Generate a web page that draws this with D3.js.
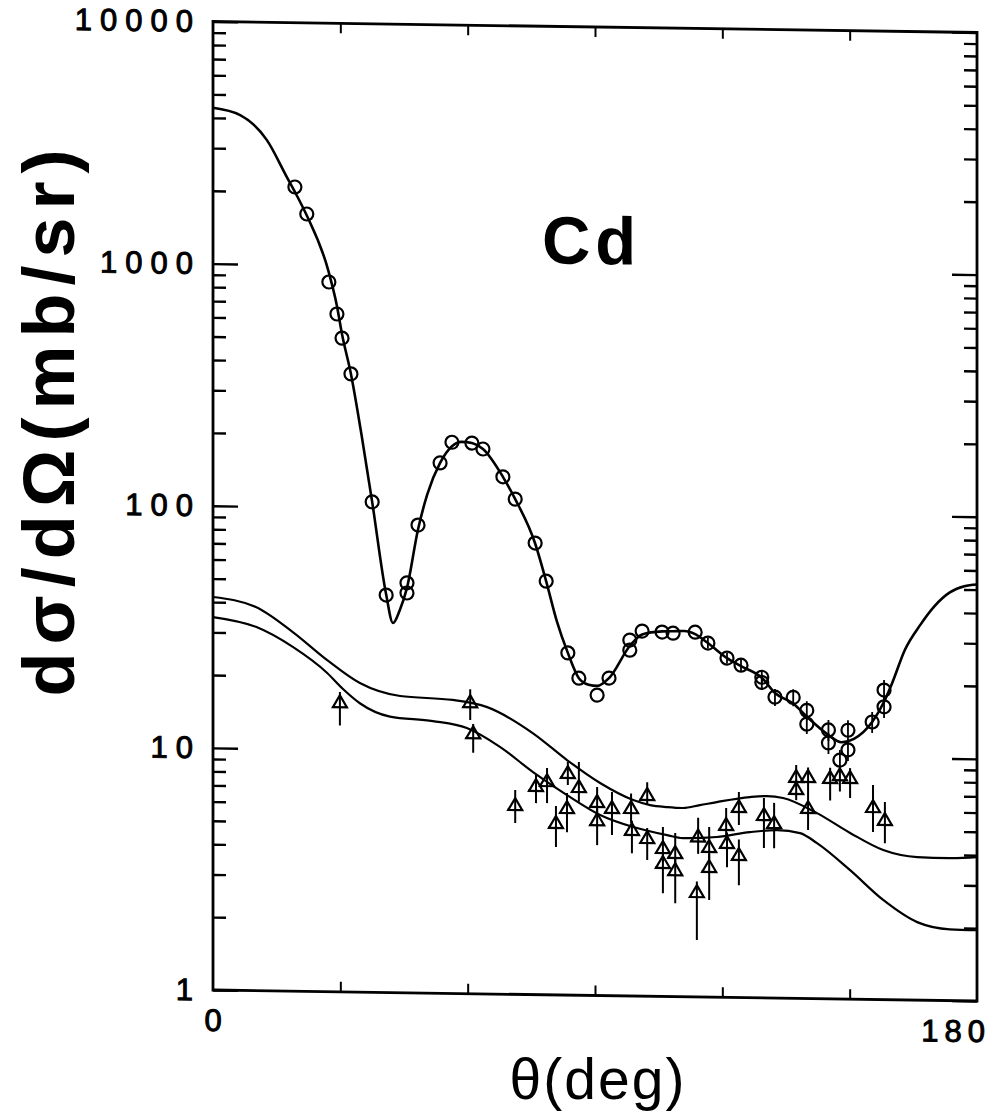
<!DOCTYPE html>
<html>
<head>
<meta charset="utf-8">
<script src="https://cdn.jsdelivr.net/npm/d3@7"></script>
<style>
  html, body { margin: 0; padding: 0; background: #ffffff; }
  svg { display: block; }
  text { font-family: "Liberation Sans", Arial, Helvetica, sans-serif; fill: #000; }
</style>
</head>
<body>
<svg id="chart" width="993" height="1116"></svg>
<script>
// Elastic cross section, optical-model curve (angle in degrees, mb/sr)
const elasticCurveTheta = [0, 6.4, 12.7, 17.4, 19.3, 22.1, 27.1, 29.2, 30.4, 32.5, 35.0, 37.5, 40.8, 42.4, 44.0, 45.7, 48.3, 50.5, 53.5, 56.3, 58.5, 61.0, 63.6, 68.3, 71.2, 75.9, 78.5, 81.0, 83.6, 86.2, 88.5, 90.5, 93.3, 98.2, 101.1, 105.8, 108.4, 111.0, 113.6, 116.6, 121.1, 124.4, 129.3, 132.4, 136.7, 139.9, 145.0, 148.0, 151.0, 155.3, 158.1, 160.0, 163.0, 166.6, 170.0, 173.6, 177.0, 180.0];
const elasticCurveValue = [4400, 4120, 3260, 2300, 2000, 1600, 960, 680, 520, 357, 200, 106, 44, 33.6, 38, 47, 82, 115, 155, 182, 190, 188, 178, 137, 111, 73, 51, 35, 25.9, 20.4, 19.2, 19.0, 20.5, 27.9, 31.2, 32.2, 32.3, 32.4, 31.5, 29.0, 25.2, 23.4, 21.0, 18.2, 16.5, 14.6, 12.3, 11.5, 11.9, 14.0, 17.0, 20.3, 27.9, 35.4, 42.5, 48.5, 51.5, 52.5];

// Inelastic curves (two model calculations)
const inelasticCurveTheta = [0, 10.1, 18.8, 26.9, 34.6, 44.1, 56.5, 64.6, 75.4, 83.4, 91.2, 99.0, 103.0, 107.0, 110.7, 114.7, 118.7, 126.5, 130.5, 134.3, 142.3, 150.1, 157.9, 165.9, 173.6, 180.0];
const inelasticUpperValue = [42.0, 38.4, 30.4, 23.4, 18.9, 16.8, 16.3, 15.3, 12.0, 9.35, 7.55, 6.45, 6.16, 6.06, 6.02, 6.20, 6.40, 6.74, 6.82, 6.71, 5.84, 4.86, 4.15, 3.90, 3.88, 3.93];
const inelasticLowerTheta = [0, 10.1, 18.8, 26.9, 30.5, 34.6, 41.7, 51.8, 59.8, 67.6, 75.4, 83.4, 91.2, 99.0, 107.0, 110.7, 118.7, 126.5, 132.9, 138.3, 142.3, 150.1, 157.9, 165.9, 173.6, 180.0];
const inelasticLowerValue = [34.7, 31.8, 26.4, 20.7, 17.9, 15.6, 13.8, 13.3, 12.5, 10.5, 8.30, 6.70, 5.57, 4.99, 4.64, 4.52, 4.59, 4.83, 4.94, 4.82, 4.39, 3.41, 2.58, 2.10, 1.97, 1.96];

// Measured elastic points
const elasticDataTheta = [19.3, 22.1, 27.3, 29.2, 30.4, 32.5, 37.5, 40.8, 45.7, 45.7, 48.3, 53.5, 56.3, 61.0, 63.6, 68.3, 71.2, 75.9, 78.5, 83.6, 86.2, 90.5, 93.3, 98.2, 98.2, 101.1, 105.8, 108.4, 113.6, 116.6, 121.1, 124.4, 129.3, 129.3, 132.4, 136.7, 139.9, 139.9, 145.0, 145.0, 147.7, 149.6, 149.6, 155.3, 158.1, 158.1];
const elasticDataValue = [2096, 1624, 853, 630, 501, 357, 106, 43.8, 49.3, 44.8, 85.6, 155, 189, 188, 178, 137, 111, 73.3, 51.1, 25.9, 20.4, 17.4, 20.5, 29.5, 26.8, 32.2, 32.0, 31.7, 32.1, 29.0, 25.2, 23.6, 21.1, 20.1, 17.5, 17.5, 15.5, 13.6, 12.9, 11.4, 9.7, 12.9, 10.7, 14.0, 16.2, 19.0];
const elasticDataErr = [0, 0, 0, 0, 0, 0, 0, 0, 0, 0, 0, 0, 0, 0, 0, 0, 0, 0, 0, 0, 0, 0, 0, 0, 0, 0, 0, 0, 0, 0.05, 0.05, 0.06, 0.07, 0.07, 0.08, 0.08, 0.09, 0.09, 0.1, 0.1, 0.1, 0.1, 0.1, 0.1, 0.1, 0.1];

// Measured inelastic points with their error limits
const inelasticDataTheta = [29.9, 60.6, 61.3, 71.2, 76.1, 78.7, 80.8, 83.6, 83.4, 86.2, 90.5, 90.5, 94.0, 98.5, 98.7, 102.3, 102.3, 106.0, 106.0, 108.9, 108.9, 114.0, 114.3, 116.9, 116.9, 120.9, 121.1, 123.9, 123.9, 129.8, 132.2, 137.4, 137.4, 140.2, 140.2, 145.4, 147.7, 150.1, 155.5, 158.3];
const inelasticDataValue = [15.7, 16.0, 11.9, 6.05, 7.27, 7.63, 5.13, 8.26, 5.92, 7.24, 6.30, 5.30, 5.96, 5.97, 4.85, 6.78, 4.50, 4.10, 3.56, 3.92, 3.33, 2.71, 4.6, 4.17, 3.45, 5.15, 4.34, 6.12, 3.88, 5.69, 5.28, 8.21, 7.32, 8.22, 6.12, 8.17, 8.4, 8.19, 6.23, 5.52];
const inelasticErrLow = [12.6, 13.5, 9.9, 5.10, 6.18, 6.19, 4.08, 7.37, 4.71, 6.3, 5.6, 4.18, 4.61, 5.18, 3.89, 6.2, 3.65, 3.6, 2.67, 3.5, 2.43, 1.72, 3.9, 3.7, 2.52, 4.6, 3.45, 5.16, 2.91, 4.16, 4.16, 7.5, 6.59, 6.80, 4.97, 6.6, 7.2, 6.77, 4.92, 4.43];
const inelasticErrHigh = [17.3, 18.1, 13.0, 6.98, 8.07, 8.64, 6.03, 9.17, 6.83, 9.19, 7.26, 5.9, 6.94, 6.86, 5.3, 7.66, 4.95, 5.01, 3.9, 4.74, 3.7, 3.0, 5.5, 5.04, 3.9, 6.05, 4.8, 7.06, 4.5, 6.69, 6.4, 9.2, 8.0, 9.0, 6.8, 9.0, 9.2, 9.0, 7.69, 6.55];

// Axis ticks and labels
const xTickValues = [30, 60, 90, 120, 150];
const xEndLabels = ["0", "180"];
const yMajorTicks = [1, 10, 100, 1000, 10000];
const yTickLabels = ["1", "10", "100", "1000", "10000"];
const elementLabel = "Cd";
const xTitle = "θ(deg)";
const yTitle = "dσ/dΩ(mb/sr)";

const W = 764, H = 968.5;
const svg = d3.select("#chart");

const x = d3.scaleLinear().domain([0, 180]).range([0, W]);
const y = d3.scaleLog().domain([1, 10000]).range([H, 0]);

// The plotting frame is slightly sheared, as on the printed page
const g = svg.append("g").attr("transform", "translate(213,21.5) skewY(0.825)");

// minor tick values of each decade
const yMinor = [];
for (let d = 1; d < 10000; d *= 10) for (let k = 2; k <= 9; k++) yMinor.push(d * k);

const labelStyle = sel => sel.attr("font-size", 31).attr("letter-spacing", 8)
  .attr("font-family", "'Liberation Sans', Arial, sans-serif").attr("fill", "#000")
  .attr("stroke", "#000").attr("stroke-width", 1);

// Left axis: minor ticks
g.append("g").call(d3.axisLeft(y).tickValues(yMinor).tickSize(-13).tickFormat(""))
  .call(a => a.select(".domain").remove())
  .selectAll("line").attr("stroke", "#000").attr("stroke-width", 2.4);
// Left axis: decade ticks with labels
const la = g.append("g").call(d3.axisLeft(y).tickValues(yMajorTicks).tickSize(-25).tickPadding(12)
  .tickFormat((d, i) => yTickLabels[i]));
la.select(".domain").remove();
la.selectAll("line").attr("stroke", "#000").attr("stroke-width", 2.4);
la.selectAll("text").call(labelStyle);

// Right axis ticks
g.append("g").attr("transform", `translate(${W},0)`)
  .call(d3.axisRight(y).tickValues(yMinor).tickSize(-13).tickFormat(""))
  .call(a => a.select(".domain").remove())
  .selectAll("line").attr("stroke", "#000").attr("stroke-width", 2.4);
g.append("g").attr("transform", `translate(${W},0)`)
  .call(d3.axisRight(y).tickValues(yMajorTicks).tickSize(-25).tickFormat(""))
  .call(a => a.select(".domain").remove())
  .selectAll("line").attr("stroke", "#000").attr("stroke-width", 2.4);

// Bottom and top ticks
g.append("g").attr("transform", `translate(0,${H})`)
  .call(d3.axisBottom(x).tickValues(xTickValues).tickSize(-10).tickFormat(""))
  .call(a => a.select(".domain").remove())
  .selectAll("line").attr("stroke", "#000").attr("stroke-width", 2);
g.append("g")
  .call(d3.axisTop(x).tickValues(xTickValues).tickSize(-10).tickFormat(""))
  .call(a => a.select(".domain").remove())
  .selectAll("line").attr("stroke", "#000").attr("stroke-width", 2);

// Frame
g.append("rect").attr("x", 0).attr("y", 0).attr("width", W).attr("height", H)
  .attr("fill", "none").attr("stroke", "#000").attr("stroke-width", 2.8);

// x end labels
g.append("text").attr("x", x(0)).attr("y", H + 41).attr("text-anchor", "middle")
  .call(labelStyle).attr("letter-spacing", 0).text(xEndLabels[0]);
g.append("text").attr("x", x(180) + 14).attr("y", H + 41).attr("text-anchor", "end")
  .call(labelStyle).attr("letter-spacing", 6).text(xEndLabels[1]);

// Curves
const line = d3.line().curve(d3.curveMonotoneX);
const pathData = (ts, vs) => line(ts.map((t, i) => [x(t), y(vs[i])]));

g.append("path").attr("d", pathData(elasticCurveTheta, elasticCurveValue))
  .attr("fill", "none").attr("stroke", "#000").attr("stroke-width", 2.6);
g.append("path").attr("d", pathData(inelasticCurveTheta, inelasticUpperValue))
  .attr("fill", "none").attr("stroke", "#000").attr("stroke-width", 2.2);
g.append("path").attr("d", pathData(inelasticLowerTheta, inelasticLowerValue))
  .attr("fill", "none").attr("stroke", "#000").attr("stroke-width", 2.2);

// Inelastic points: error bars then open triangles
const tri = inelasticDataTheta.map((t, i) => ({ t, v: inelasticDataValue[i], lo: inelasticErrLow[i], hi: inelasticErrHigh[i] }));
g.append("g").selectAll("line").data(tri).join("line")
  .attr("x1", d => x(d.t)).attr("x2", d => x(d.t))
  .attr("y1", d => y(d.hi)).attr("y2", d => y(d.lo))
  .attr("stroke", "#000").attr("stroke-width", 2);
g.append("g").selectAll("path").data(tri).join("path")
  .attr("transform", d => `translate(${x(d.t)},${y(d.v)})`)
  .attr("d", "M0,-7 L7,5 L-7,5 Z M-8,5 L8,5")
  .attr("fill", "none").attr("stroke", "#000").attr("stroke-width", 2.2);

// Elastic points: open circles with small error bars
const circ = elasticDataTheta.map((t, i) => ({ t, v: elasticDataValue[i], e: elasticDataErr[i] }));
g.append("g").selectAll("line").data(circ.filter(d => d.e > 0)).join("line")
  .attr("x1", d => x(d.t)).attr("x2", d => x(d.t))
  .attr("y1", d => y(d.v * (1 + d.e))).attr("y2", d => y(d.v * (1 - d.e)))
  .attr("stroke", "#000").attr("stroke-width", 1.8);
g.append("g").selectAll("circle").data(circ).join("circle")
  .attr("cx", d => x(d.t)).attr("cy", d => y(d.v)).attr("r", 6.5)
  .attr("fill", "none").attr("stroke", "#000").attr("stroke-width", 2.2);

// Element label
g.append("text").attr("x", x(77.5)).attr("y", y(1000) - 5).attr("font-size", 67)
  .attr("font-weight", "bold").attr("letter-spacing", 5).text(elementLabel);

// Axis titles
svg.append("text").attr("x", 598).attr("y", 1099).attr("text-anchor", "middle")
  .attr("font-size", 57).attr("letter-spacing", 2).text(xTitle);
svg.append("text").attr("transform", "translate(74,419) rotate(-90)")
  .attr("text-anchor", "middle").attr("font-size", 72).attr("font-weight", "bold")
  .attr("letter-spacing", 8).text(yTitle);
</script>
</body>
</html>
